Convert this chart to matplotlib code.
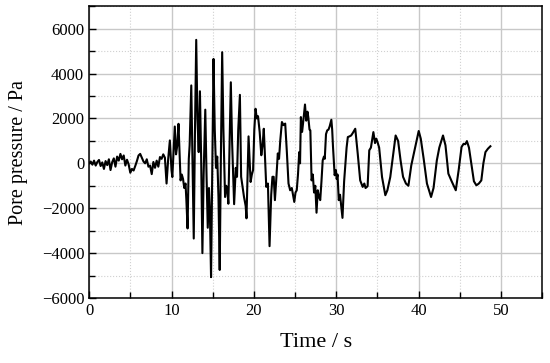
import numpy as np
import matplotlib.pyplot as plt
from matplotlib.ticker import MultipleLocator

plt.rcParams.update({
    "font.family": "serif",
    "font.serif": ["Liberation Serif", "DejaVu Serif"]})

# ----------------------------------------
# Digitised record (time in s, pressure in Pa)
# ----------------------------------------
t_quiet = [0.0, 0.2, 0.4, 0.6, 0.8, 1.0, 1.2, 1.4, 1.6, 1.8,
           2.0, 2.2, 2.4, 2.6, 2.8, 3.0, 3.2, 3.4, 3.6, 3.8,
           4.0, 4.2, 4.4, 4.6, 4.8, 5.0, 5.2, 5.4, 5.6, 5.8,
           6.0, 6.2, 6.4, 6.6, 6.8, 7.0, 7.2, 7.4, 7.6, 7.8,
           8.0, 8.2, 8.4, 8.6, 8.8, 9.0, 9.2]
p_quiet = [0, 80, -60, 120, -100, 60, 150, -120, 40, -250,
           100, -80, 180, -300, 50, 220, -150, 300, 120, 420,
           180, 350, -100, 160, -50, -420, -250, -320, -120, 100,
           350, 420, 250, 80, 0, 180, -150, -100, -480, 60,
           -200, 120, -150, 280, 200, 400, 250]

t_strong = [9.4, 9.6, 9.8, 10.0, 10.1, 10.25, 10.4, 10.55, 10.7, 10.85,
            11.0, 11.1, 11.25, 11.4, 11.55, 11.7, 11.8, 11.95, 12.1, 12.2,
            12.4, 12.55, 12.7, 12.85, 13.0, 13.15, 13.3, 13.45, 13.6, 13.75,
            13.9, 14.1, 14.25, 14.4, 14.55, 14.65, 14.8, 14.95, 15.1, 15.25,
            15.4, 15.55, 15.7, 15.85, 16.0, 16.15, 16.3, 16.5, 16.65, 16.8,
            16.9, 17.05, 17.2, 17.35, 17.6, 17.8, 17.95, 18.1, 18.3, 18.45,
            18.6, 18.8, 19.0, 19.1, 19.35, 19.6, 19.75, 19.9, 20.05, 20.2,
            20.35, 20.5, 20.7, 20.9, 21.05, 21.2, 21.35, 21.5, 21.7, 21.9,
            22.1, 22.25, 22.4, 22.55, 22.7, 22.9]
p_strong = [-900, 200, 1020, -300, -610, 500, 1640, 400, 800, 1760,
            200, -760, -500, -700, -1100, -900, -1600, -2900, 200, 800,
            3470, 0, -3350, 1500, 5500, 2000, 500, 3210, 200, -4000,
            -500, 2390, -500, -2870, -1100, -2000, -5070, 0, 4650, 1500,
            -200, 300, -1500, -4750, 500, 4950, 1500, -1500, -1000, -1300,
            -1800, 1000, 3610, 1000, -1820, -200, -600, 1500, 3050, -600,
            -1000, -1500, -1900, -2450, 1200, -830, -500, -300, 1500, 2430,
            2000, 2100, 1400, 360, 800, 1540, 300, -1050, -900, -3690,
            -1400, -600, -600, -1640, -800, 440]

t_decay = [23.05, 23.2, 23.4, 23.6, 23.8, 24.0, 24.2, 24.4, 24.6, 24.75,
           24.9, 25.05, 25.2, 25.35, 25.5, 25.6, 25.7, 25.85, 26.0, 26.2,
           26.35, 26.5, 26.6, 26.75, 26.85, 27.0, 27.15, 27.3, 27.45, 27.6,
           27.75, 27.9, 28.05, 28.2, 28.35, 28.5, 28.6, 28.75, 28.9, 29.05,
           29.2, 29.4, 29.5, 29.6, 29.8, 29.95, 30.05, 30.15, 30.3, 30.45,
           30.6, 30.75, 30.95, 31.1, 31.25, 31.4, 31.6, 31.8, 32.0, 32.3,
           32.6, 32.9, 33.05, 33.2, 33.4, 33.55, 33.8, 34.0, 34.2, 34.5,
           34.7, 34.85, 35.0, 35.2, 35.55, 35.95, 36.2, 36.55, 36.8, 37.2,
           37.5, 37.8, 38.1, 38.45, 38.75, 39.1, 39.5, 40.0, 40.25, 40.6,
           41.0, 41.5, 41.8, 42.2, 42.5, 42.95, 43.25, 43.6, 44.0, 44.5,
           44.85, 45.2, 45.45, 45.65, 45.85, 46.1, 46.45, 46.7, 47.0, 47.3,
           47.6, 47.85, 48.1, 48.4, 48.7]
p_decay = [200, 1020, 1840, 1700, 1770, 500, -900, -1200, -1100, -1400,
           -1720, -1300, -1200, -500, 500, 0, 2060, 1400, 1900, 2620,
           1900, 2300, 2060, 1500, 1470, -760, -500, -1300, -1000, -2200,
           -1200, -1500, -1640, -800, 130, 300, 200, 1300, 1470, 1500,
           1650, 1940, 1500, 730, -530, -300, -700, -500, -1640, -1400,
           -1900, -2430, -800, -15, 700, 1170, 1200, 1240, 1350, 1540,
           430, -760, -900, -1050, -900, -1100, -1020, 580, 700, 1390,
           900, 1100, 950, 700, -610, -1420, -1200, -610, 100, 1240,
           1000, 130, -600, -900, -1000, -90, 600, 1440, 1100, 210,
           -900, -1500, -1100, 130, 700, 1240, 800, -460, -800, -1200,
           -300, 730, 870, 850, 990, 700, -160, -800, -980, -900,
           -760, 0, 500, 650, 760]

time = np.array(t_quiet + t_strong + t_decay)
pressure = np.array(p_quiet + p_strong + p_decay)

fig = plt.figure(figsize=(5.5, 3.63), dpi=100)
ax = fig.add_axes([0.162, 0.179, 0.824, 0.804])

ax.plot(time, pressure, color='black', linewidth=1.5)

ax.set_xlim(0, 55)
ax.set_ylim(-6000, 7000)
ax.xaxis.set_major_locator(MultipleLocator(10))
ax.xaxis.set_minor_locator(MultipleLocator(5))
ax.yaxis.set_major_locator(MultipleLocator(2000))
ax.yaxis.set_minor_locator(MultipleLocator(1000))
ax.set_yticks(np.arange(-6000, 6001, 2000))

ax.grid(which='major', color='#c8c8c8', linestyle='-', linewidth=1.0)
ax.grid(which='minor', color='#d0d0d0', linestyle=':', linewidth=0.8)
ax.set_axisbelow(True)

ax.tick_params(which='both', direction='in', top=False, right=False,
               labelsize=12, width=1.0)
ax.tick_params(which='major', length=5)
ax.tick_params(which='minor', length=4)
for s in ax.spines.values():
    s.set_linewidth(1.1)

ax.set_xlabel("Time / s", fontsize=16, labelpad=10)
ax.set_ylabel("Pore pressure / Pa", fontsize=14.5, labelpad=10)

plt.savefig("out.png", dpi=100)
